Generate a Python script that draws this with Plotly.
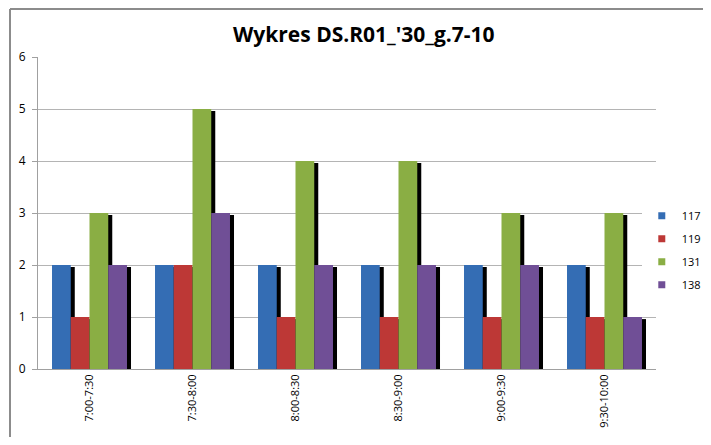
import plotly.graph_objects as go

categories = ["7:00-7:30", "7:30-8:00", "8:00-8:30", "8:30-9:00", "9:00-9:30", "9:30-10:00"]
s117 = [2, 2, 2, 2, 2, 2]
s119 = [1, 2, 1, 1, 1, 1]
s131 = [3, 5, 4, 4, 3, 3]
s138 = [2, 3, 2, 2, 2, 1]

series = [("117", s117, "#346db4"), ("119", s119, "#bd3836"),
          ("131", s131, "#8aae44"), ("138", s138, "#704f96")]

font = "Open Sans"
bar_w = 0.182
first_off = -0.364

fig = go.Figure()

#====== cienie (black shadows behind bars) ======
for i, (name, vals, color) in enumerate(series):
    fig.add_trace(go.Bar(
        x=categories,
        y=[v - 0.04 for v in vals],
        width=bar_w,
        offset=first_off + i * bar_w + 0.039,
        marker=dict(color="black", line=dict(width=0)),
        showlegend=False,
        hoverinfo="skip"
    ))

#====== bars ======
for i, (name, vals, color) in enumerate(series):
    fig.add_trace(go.Bar(
        x=categories,
        y=vals,
        name=name,
        width=bar_w,
        offset=first_off + i * bar_w,
        showlegend=False,
        marker=dict(color=color, line=dict(width=0))
    ))

#====== legenda (small square keys) ======
for name, vals, color in series:
    fig.add_trace(go.Scatter(
        x=[None], y=[None],
        mode="markers",
        name=name,
        legendgroup=name,
        marker=dict(symbol="square", size=7, color=color)
    ))

# ramka wykresu
fig.add_shape(type="line", xref="paper", yref="paper",
              x0=-0.0453, x1=-0.0453, y0=-0.3, y1=1.154,
              line=dict(color="#8c8c8c", width=2))
fig.add_shape(type="line", xref="paper", yref="paper",
              x0=-0.0453, x1=1.2, y0=1.154, y1=1.154,
              line=dict(color="#8c8c8c", width=2))

# the page adds an 8px body margin, so the figure is smaller than the window
fig.update_layout(
    width=695,
    height=429,
    barmode="overlay",
    paper_bgcolor="white",
    plot_bgcolor="white",
    margin=dict(l=30, r=47, t=49, b=68, autoexpand=False),
    title=dict(text="<b>Wykres DS.R01_'30_g.7-10</b>", x=0.512, xanchor="center",
               y=0.937, yanchor="middle",
               font=dict(family=font, size=21, color="black")),
    font=dict(family=font, size=11, color="black"),
    legend=dict(x=0.977, xanchor="left", y=0.381, yanchor="middle",
                tracegroupgap=4, font=dict(size=11)),
    showlegend=True
)
fig.update_xaxes(
    type="category",
    tickangle=-90,
    showline=True, linecolor="#a0a0a0", linewidth=1,
    showgrid=False, ticks="",
    tickfont=dict(size=11)
)
fig.update_yaxes(
    range=[0, 6], dtick=1,
    showgrid=True, gridcolor="#b4b4b4", gridwidth=1,
    zeroline=False,
    showline=True, linecolor="#a0a0a0", linewidth=1,
    ticks="outside", ticklen=5, tickcolor="#a0a0a0",
    ticklabelstandoff=4,
    tickfont=dict(size=12)
)

fig.write_html("out.html")
